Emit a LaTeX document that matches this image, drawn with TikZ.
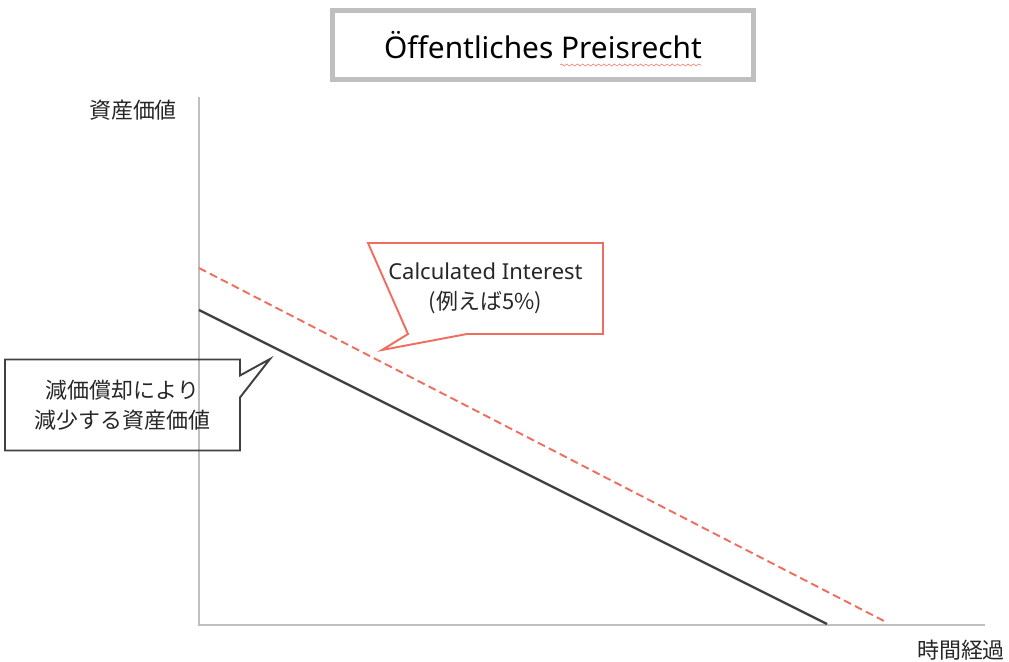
\documentclass[tikz,border=0pt]{standalone}
\usepackage{fontspec}
\setmainfont{Noto Sans}
\newfontfamily\jpfont{Noto Sans CJK JP}
\usetikzlibrary{positioning, calc, decorations.pathmorphing}
\definecolor{axisgrey}{RGB}{191,191,191}
\definecolor{valuegrey}{RGB}{64,64,64}
\definecolor{salmon}{RGB}{240,110,95}

\begin{document}
\begin{tikzpicture}[x=0.02cm, y=-0.02cm]
    \tikzset{titlebox/.style={rectangle,draw=axisgrey,line width=2.8pt,minimum width=8.42cm,minimum height=1.38cm,font=\fontsize{17}{21}\selectfont}}
    \tikzset{axis/.style={draw=axisgrey,line width=0.8pt}}
    \tikzset{label/.style={font=\jpfont\fontsize{12.5}{15}\selectfont,text=black!85}}
    \tikzset{bubble/.style={rectangle,draw=none,outer sep=0pt,align=center,minimum width=4.7cm,minimum height=1.82cm,font=\fontsize{12.5}{17}\selectfont,text=black!85}}
    \useasboundingbox (0,0) rectangle (1009,662);

    % Title
    \node[titlebox] (title) at (543,45) {Öffentliches Preisrecht};
    \coordinate (wave start) at (560,65);
    \coordinate (wave end) at (701,65);
    \draw[salmon, line width=0.3pt, decorate, decoration={snake, amplitude=0.6, segment length=3}] (wave start) -- (wave end);

    % Axes
    \coordinate (origin) at (199,625);
    \coordinate (y top) at (199,97);
    \coordinate (x end) at (985,625);
    \draw[axis] (y top) -- (origin) -- (x end);
    \node[label] (y label) at (133,110) {資産価値};
    \node[label] (x label) at (961,650) {時間経過};

    % Value lines
    \coordinate (value start) at (199,310);
    \coordinate (value end) at (827,624);
    \coordinate (interest start) at (199,268);
    \coordinate (interest end) at (886,622);
    \draw[valuegrey, line width=1.3pt] (value start) -- (value end);
    \draw[salmon, line width=1.1pt, dash pattern=on 4.5pt off 2.5pt] (interest start) -- (interest end);

    % Callouts
    \node[bubble] (interest box) at (485.5,288.5) {Calculated Interest\\{\jpfont (例えば5\%)}};
    \coordinate (interest tip) at (382,350);
    \draw[salmon, line width=1.1pt] (interest box.north west) -- (interest box.north east) -- (interest box.south east)
        -- ($(interest box.south west)+(99,0)$) -- (interest tip) -- ($(interest box.south west)+(40,0)$) -- cycle;

    \node[bubble] (value box) at (122.5,405) {{\jpfont 減価償却により}\\{\jpfont 減少する資産価値}};
    \coordinate (value tip) at (270,359);
    \draw[valuegrey, line width=1.1pt] (value box.north west) -- (value box.north east) -- ($(value box.north east)+(0,16)$)
        -- (value tip) -- ($(value box.north east)+(0,38)$) -- (value box.south east) -- (value box.south west) -- cycle;
\end{tikzpicture}
\end{document}
